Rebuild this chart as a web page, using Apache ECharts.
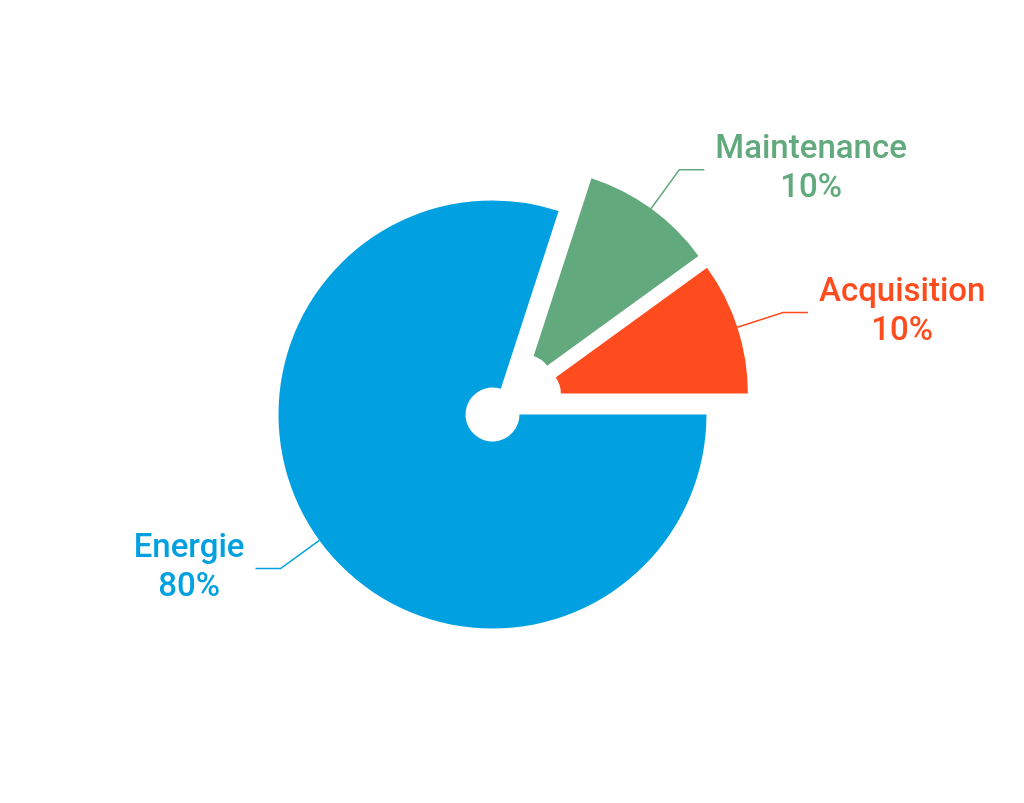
<!DOCTYPE html>
<html>
<head>
<meta charset="utf-8">
<title>Pie</title>
<script src="https://cdn.jsdelivr.net/npm/echarts@6/dist/echarts.min.js"></script>
<style>
  html, body { margin: 0; padding: 0; background: #fff; }
  #chart { width: 1024px; height: 803px; }
</style>
</head>
<body>
<div id="chart"></div>
<script>
const categories = ['Maintenance', 'Acquisition', 'Energie']
const values = [10, 10, 80]
const colors = ['#62A97D', '#FF4C1F', '#00A0E1']

const chart = echarts.init(document.getElementById('chart'))

const data = categories.map((name, i) => ({
  name: name,
  value: values[i],
  selected: true,
  itemStyle: { color: colors[i] },
  select: { itemStyle: { color: colors[i], borderWidth: 0 } },
  label: { color: colors[i] },
  labelLine: { lineStyle: { color: colors[i] } }
}))

chart.setOption({
  animation: false,
  backgroundColor: '#fff',
  series: [
    {
      type: 'pie',
      center: [511.5, 400.7],
      radius: [27, 214],
      startAngle: 72,
      clockwise: true,
      selectedMode: 'multiple',
      selectedOffset: 23.5,
      avoidLabelOverlap: false,
      emphasis: { disabled: true },
      label: {
        show: true,
        position: 'outside',
        distanceToLabelLine: 11,
        formatter: '{n|{b}}\n{n|{c}%}',
        rich: {
          n: {
            fontFamily: 'Roboto',
            fontWeight: 500,
            fontSize: 33,
            lineHeight: 39,
            align: 'center'
          }
        }
      },
      labelLine: {
        show: true,
        length: 48,
        length2: 25,
        smooth: false,
        lineStyle: { width: 1.5 }
      },
      data: data
    }
  ]
})
</script>
</body>
</html>
